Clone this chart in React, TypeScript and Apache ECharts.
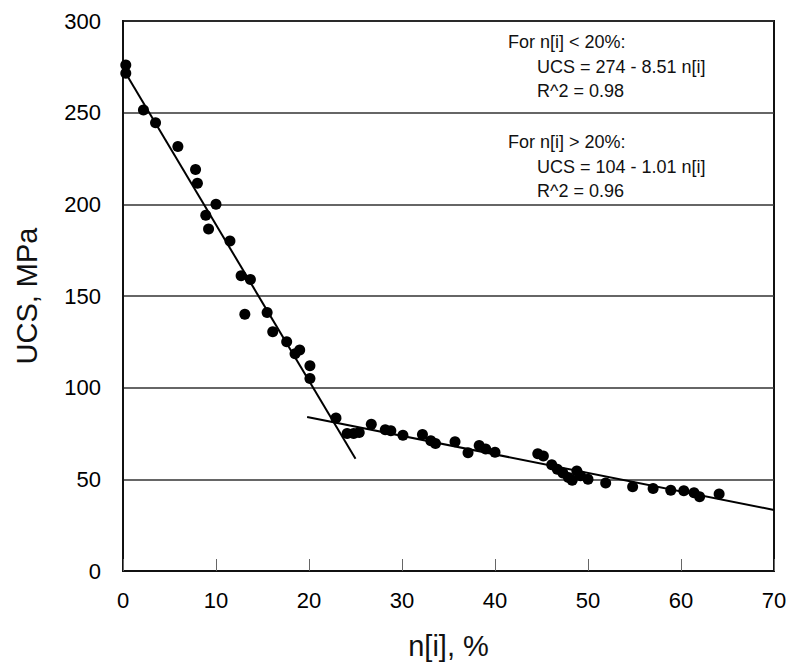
import React, { useEffect, useRef } from "react";
import * as echarts from "echarts";

// Measured points: porosity n[i] (%) vs UCS (MPa)
const lowPorosity: [number, number][] = [
  [0.3, 276], [0.3, 271.5], [2.2, 251.5], [3.5, 244.5], [5.9, 231.5],
  [7.8, 219], [8.0, 211.5], [10.0, 200], [8.9, 194], [9.2, 186.5],
  [11.5, 180], [12.7, 161], [13.7, 159], [13.1, 140], [15.5, 141],
  [16.1, 130.5], [17.6, 125], [18.5, 118.5], [19.0, 120.5], [20.1, 112],
  [20.1, 105],
];

const highPorosity: [number, number][] = [
  [22.9, 83.5], [24.1, 75], [24.8, 75], [25.4, 75.5], [26.7, 80],
  [28.2, 77], [28.8, 76.5], [30.1, 74], [32.2, 74.5], [33.1, 71],
  [33.6, 69.5], [35.7, 70.5], [37.1, 64.5], [38.3, 68.5], [39.0, 66.5],
  [40.0, 64.8], [44.6, 64], [45.2, 62.7], [46.1, 58], [46.7, 55.5],
  [47.3, 53.5], [47.9, 51], [48.3, 49.5], [48.8, 54.5], [49.2, 52],
  [50.0, 50], [51.9, 48], [54.8, 46], [57.0, 45], [58.9, 44],
  [60.3, 43.8], [61.4, 42.7], [62.0, 40.5], [64.1, 42],
];

// Regression lines (end points on the fitted equations)
const fitLow: [number, number][] = [[0.5, 269.7], [25, 61.25]];
const fitHigh: [number, number][] = [[19.8, 84.0], [70, 33.3]];

const xTicks = [0, 10, 20, 30, 40, 50, 60, 70];
const yTicks = [0, 50, 100, 150, 200, 250, 300];

const annotationLow = ["For n[i] < 20%:", "UCS = 274 - 8.51 n[i]", "R^2 = 0.98"];
const annotationHigh = ["For n[i] > 20%:", "UCS = 104 - 1.01 n[i]", "R^2 = 0.96"];

const FONT = "'Liberation Sans', Arial, sans-serif";

export default function App() {
  const ref = useRef<HTMLDivElement>(null);

  useEffect(() => {
    if (!ref.current) return;
    const chart = echarts.init(ref.current, null, { renderer: "svg" });

    const textEl = (t: string, left: number, top: number) => ({
      type: "text",
      left,
      top,
      style: { text: t, font: `18px ${FONT}`, fill: "#111" },
    });

    chart.setOption({
      animation: false,
      backgroundColor: "#fff",
      grid: {
        left: 123,
        right: 17,
        top: 21,
        bottom: 100,
        show: true,
        borderColor: "#111",
        borderWidth: 2,
      },
      xAxis: {
        type: "value",
        min: xTicks[0],
        max: xTicks[xTicks.length - 1],
        interval: 10,
        name: "n[i], %",
        nameLocation: "middle",
        nameGap: 60,
        nameTextStyle: { fontFamily: FONT, fontSize: 29, color: "#111" },
        axisLine: { show: true, lineStyle: { color: "#111", width: 2 } },
        axisTick: { show: true, inside: true, length: 12, lineStyle: { color: "#666", width: 1 } },
        axisLabel: { fontFamily: FONT, fontSize: 22, color: "#000", margin: 18 },
        splitLine: { show: false },
      },
      yAxis: {
        type: "value",
        min: yTicks[0],
        max: yTicks[yTicks.length - 1],
        interval: 50,
        name: "UCS, MPa",
        nameLocation: "middle",
        nameGap: 82,
        nameRotate: 90,
        nameTextStyle: { fontFamily: FONT, fontSize: 29, color: "#111" },
        axisLine: { show: true, lineStyle: { color: "#111", width: 2 } },
        axisTick: { show: false },
        axisLabel: { fontFamily: FONT, fontSize: 22, color: "#000", margin: 22 },
        splitLine: { show: true, lineStyle: { color: "#333", width: 1.5 } },
      },
      series: [
        {
          type: "line",
          data: fitLow,
          showSymbol: false,
          symbol: "none",
          lineStyle: { color: "#000", width: 2 },
          z: 3,
        },
        {
          type: "line",
          data: fitHigh,
          showSymbol: false,
          symbol: "none",
          lineStyle: { color: "#000", width: 2 },
          z: 3,
        },
        {
          type: "scatter",
          data: lowPorosity,
          symbol: "circle",
          symbolSize: 11,
          itemStyle: { color: "#000", opacity: 1 },
          z: 4,
        },
        {
          type: "scatter",
          data: highPorosity,
          symbol: "circle",
          symbolSize: 11,
          itemStyle: { color: "#000", opacity: 1 },
          z: 4,
        },
      ],
      graphic: [
        textEl(annotationLow[0], 508, 33),
        textEl(annotationLow[1], 537, 58),
        textEl(annotationLow[2], 537, 82),
        textEl(annotationHigh[0], 508, 133),
        textEl(annotationHigh[1], 537, 158),
        textEl(annotationHigh[2], 537, 182),
      ],
    });

    return () => chart.dispose();
  }, []);

  return <div ref={ref} style={{ width: 791, height: 671, position: "absolute", left: 0, top: 0 }} />;
}
